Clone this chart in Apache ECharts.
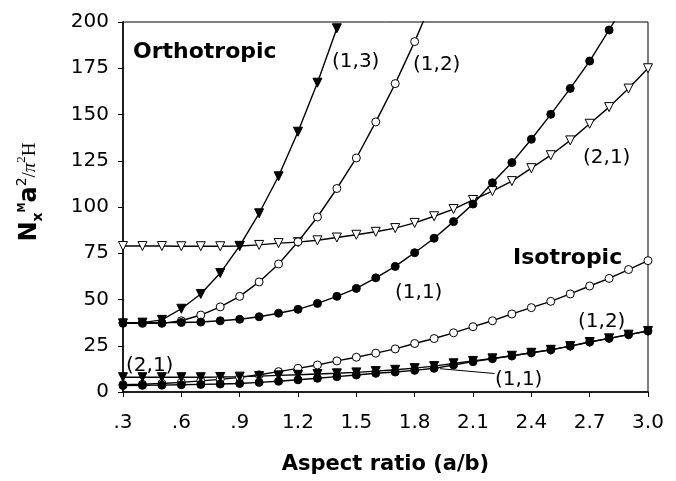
<!DOCTYPE html>
<html><head><meta charset="utf-8">
<script src="https://cdn.jsdelivr.net/npm/echarts@6/dist/echarts.min.js"></script>
<style>html,body{margin:0;padding:0;background:#fff}#c{width:676px;height:481px}</style>
</head><body><div id="c"></div>
<script>
// Aspect ratio (a/b) sample points
const ratios = [0.3,0.4,0.5,0.6,0.7,0.8,0.9,1.0,1.1,1.2,1.3,1.4,1.5,1.6,1.7,1.8,1.9,2.0,2.1,2.2,2.3,2.4,2.5,2.6,2.7,2.8,2.9,3.0];
// Orthotropic
const orth11 = [37.5,37.5,37.5,37.6,37.8,38.5,39.3,40.7,42.6,44.7,47.9,51.7,56.0,61.7,67.9,75.3,83.1,92.1,101.6,113.1,124.0,136.6,150.1,164.1,178.9,195.7,213.0];
const orth12 = [37.1,37.1,37.1,38.5,41.6,46.0,51.7,59.5,69.2,81.2,94.6,110.0,126.5,146.0,166.7,189.4,214.0];
const orth13 = [37.1,37.5,39.0,45.0,53.0,64.3,79.0,96.6,116.6,140.7,167.2,196.6];
const orth21 = [78.9,78.9,78.9,78.8,78.8,78.8,78.9,79.5,80.5,81.0,82.0,83.5,85.0,86.6,88.6,91.4,95.0,98.9,103.8,108.6,114.0,121.0,128.0,136.0,145.0,154.0,164.0,175.0];
// Isotropic
const iso11 = [3.5,3.6,3.7,3.9,4.1,4.3,4.6,5.2,5.8,6.6,7.4,8.3,9.2,10.1,10.8,11.7,12.8,14.6,16.4,18.0,19.5,21.2,22.8,24.8,27.0,29.0,31.0,33.0];
const iso12 = [4.0,4.2,4.6,5.2,6.0,6.8,7.9,9.3,11.0,12.8,14.6,16.8,18.8,21.0,23.3,26.2,28.9,32.0,35.3,38.5,42.2,45.6,49.0,53.0,57.3,61.4,66.2,71.0];
const iso21 = [8.0,8.0,8.0,8.0,8.0,8.1,8.3,8.6,9.0,9.3,9.7,10.1,10.6,11.3,12.0,12.9,14.0,15.5,16.8,18.2,19.6,21.2,22.8,24.8,27.0,29.0,31.0,33.0];
// Tick labels
const xTickLabels = ['.3','.6','.9','1.2','1.5','1.8','2.1','2.4','2.7','3.0'];
const yTickLabels = ['0','25','50','75','100','125','150','175','200'];

const pairs = arr => arr.map((v,i) => [ratios[i], v]);
const FONT = 'DejaVu Sans';

function ser(name, arr, symbol, filled, size, extra) {
  return Object.assign({
    name, type: 'line', data: pairs(arr), symbol, symbolSize: size,
    symbolRotate: symbol === 'triangle' ? 180 : 0,
    showAllSymbol: true, clip: true,
    lineStyle: {color: '#000', width: 1.4},
    itemStyle: {color: filled ? '#000' : '#fff', borderColor: '#000', borderWidth: 1},
    emphasis: {disabled: true}, animation: false
  }, extra || {});
}

const chart = echarts.init(document.getElementById('c'));
chart.setOption({
  animation: false,
  grid: {left: 123, right: 28, top: 22, bottom: 89, show: true, borderColor: '#000', borderWidth: 1},
  xAxis: {
    type: 'value', min: 0.3, max: 3.0, interval: 0.3,
    axisLine: {show: true, lineStyle: {color: '#000', width: 1.5}},
    axisTick: {show: true, length: 5, lineStyle: {color: '#000'}},
    splitLine: {show: false},
    axisLabel: {margin: 21, color: '#000', fontFamily: FONT, fontSize: 20,
      formatter: v => xTickLabels[Math.round((v - 0.3) / 0.3)]},
    name: 'Aspect ratio (a/b)', nameLocation: 'middle', nameGap: 62,
    nameTextStyle: {fontFamily: FONT, fontWeight: 'bold', fontSize: 21, color: '#000'}
  },
  yAxis: {
    type: 'value', min: 0, max: 200, interval: 25,
    axisLine: {show: true, lineStyle: {color: '#000', width: 1.5}},
    axisTick: {show: true, length: 5, lineStyle: {color: '#000'}},
    splitLine: {show: false},
    axisLabel: {margin: 14, color: '#000', fontFamily: FONT, fontSize: 20,
      formatter: v => yTickLabels[Math.round(v / 25)]}
  },
  series: [
    ser('orth21', orth21, 'triangle', false, 9),
    ser('orth13', orth13, 'triangle', true, 9),
    ser('orth12', orth12, 'circle', false, 8),
    ser('orth11', orth11, 'circle', true, 8),
    ser('iso12', iso12, 'circle', false, 8),
    ser('iso11', iso11, 'circle', true, 8, {
      markLine: {silent: true, symbol: 'none', animation: false, label: {show: false},
        lineStyle: {color: '#000', width: 1, type: 'solid'},
        data: [[{coord: [2.21, 10.0]}, {coord: [1.93, 12.6]}]]}
    }),
    ser('iso21', iso21, 'triangle', true, 9)
  ],
  graphic: [
    {type: 'text', x: 133, y: 52, style: {text: 'Orthotropic', font: 'bold 22px "DejaVu Sans"', fill: '#000', verticalAlign: 'middle'}},
    {type: 'text', x: 513, y: 258, style: {text: 'Isotropic', font: 'bold 22px "DejaVu Sans"', fill: '#000', verticalAlign: 'middle'}},
    {type: 'text', x: 332, y: 62, style: {text: '(1,3)', font: '20px "DejaVu Sans"', fill: '#000', verticalAlign: 'middle'}},
    {type: 'text', x: 413, y: 65, style: {text: '(1,2)', font: '20px "DejaVu Sans"', fill: '#000', verticalAlign: 'middle'}},
    {type: 'text', x: 583, y: 158, style: {text: '(2,1)', font: '20px "DejaVu Sans"', fill: '#000', verticalAlign: 'middle'}},
    {type: 'text', x: 395, y: 293, style: {text: '(1,1)', font: '20px "DejaVu Sans"', fill: '#000', verticalAlign: 'middle'}},
    {type: 'text', x: 578, y: 322, style: {text: '(1,2)', font: '20px "DejaVu Sans"', fill: '#000', verticalAlign: 'middle'}},
    {type: 'text', x: 495, y: 380, style: {text: '(1,1)', font: '20px "DejaVu Sans"', fill: '#000', verticalAlign: 'middle'}},
    {type: 'text', x: 126, y: 366, style: {text: '(2,1)', font: '20px "DejaVu Sans"', fill: '#000', verticalAlign: 'middle'}},
    {type: 'text', x: 30, y: 192, rotation: Math.PI / 2,
      style: {
        text: '{n|N}{sub|x}{sup|M}{n|a}{sup2|2}{s|/}{pi|π}{sup3|2}{s|H}',
        align: 'center', verticalAlign: 'middle', fill: '#000',
        rich: {
          n: {fontFamily: FONT, fontWeight: 'bold', fontSize: 24, lineHeight: 30, verticalAlign: 'middle'},
          sub: {fontFamily: FONT, fontWeight: 'bold', fontSize: 14, lineHeight: 30, verticalAlign: 'bottom'},
          sup: {fontFamily: FONT, fontWeight: 'bold', fontSize: 10, lineHeight: 30, verticalAlign: 'top', padding: [2,0,0,0]},
          sup2: {fontFamily: FONT, fontSize: 14, lineHeight: 30, verticalAlign: 'top'},
          s: {fontFamily: 'Liberation Serif', fontSize: 19, lineHeight: 30, verticalAlign: 'middle'},
          pi: {fontFamily: 'Liberation Serif', fontStyle: 'italic', fontSize: 19, lineHeight: 30, verticalAlign: 'middle'},
          sup3: {fontFamily: 'Liberation Serif', fontSize: 13, lineHeight: 30, verticalAlign: 'top'}
        }
      }}
  ]
});
</script></body></html>
